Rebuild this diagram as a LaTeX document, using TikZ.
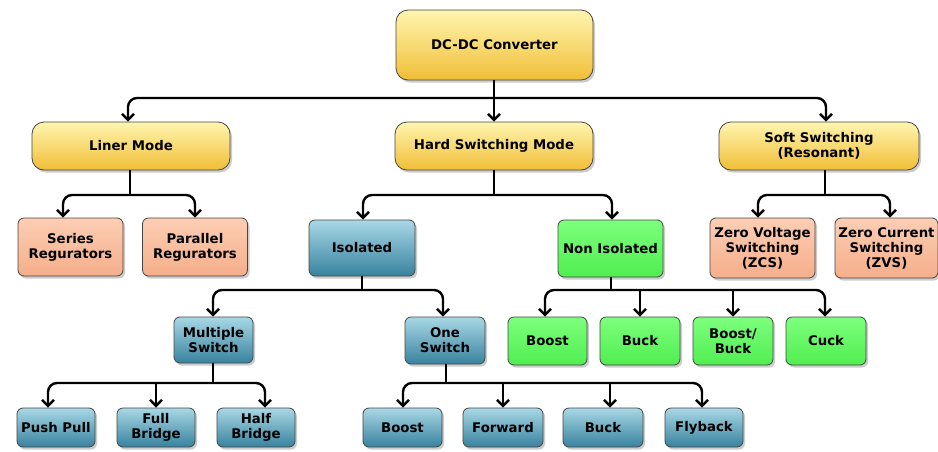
\documentclass[tikz,border=0pt]{standalone}
\usepackage{fontspec}
\setmainfont{DejaVu Sans}
\usetikzlibrary{arrows.meta,shadows,calc}
\definecolor{yelTop}{RGB}{255,245,175}
\definecolor{yelBot}{RGB}{240,190,55}
\definecolor{tealTop}{RGB}{168,216,230}
\definecolor{tealBot}{RGB}{56,130,158}
\definecolor{grnTop}{RGB}{125,255,125}
\definecolor{grnBot}{RGB}{80,238,80}
\definecolor{salTop}{RGB}{252,206,180}
\definecolor{salBot}{RGB}{245,174,138}
\definecolor{boxLine}{RGB}{70,70,70}
\begin{document}
\begin{tikzpicture}[x=1pt,y=-1pt,
  box/.style={draw=boxLine, line width=0.8pt, rounded corners=6pt, align=center, inner sep=0pt,
    font=\bfseries\fontsize{13.3}{15}\selectfont,
    drop shadow={shadow xshift=2pt,shadow yshift=-2.5pt,opacity=0.4}},
  yel/.style={box, rounded corners=12pt, top color=yelTop, bottom color=yelBot},
  teal/.style={box, top color=tealTop, bottom color=tealBot},
  grn/.style={box, top color=grnTop, bottom color=grnBot},
  sal/.style={box, top color=salTop, bottom color=salBot},
  conn/.style={line width=2.4pt, rounded corners=9pt, black},
  tip/.style={-{Straight Barb[length=6pt,width=12pt]}},
  tips/.style={{Straight Barb[length=6pt,width=12pt]}-{Straight Barb[length=6pt,width=12pt]}}
]
\fill[white] (0,0) rectangle (938,451);
\useasboundingbox (0,0) rectangle (938,451);

% level 0
\node[yel, minimum width=197, minimum height=70] (dc) at (494.5,45) {DC-DC Converter};
% level 1
\node[yel, minimum width=198, minimum height=48] (liner) at (131,146) {Liner Mode};
\node[yel, minimum width=198, minimum height=48] (hard) at (494,146) {Hard Switching Mode};
\node[yel, minimum width=200, minimum height=48] (soft) at (819,146) {Soft Switching\\(Resonant)};
% level 2
\node[sal, minimum width=105, minimum height=58] (series) at (70.5,247) {Series\\Regurators};
\node[sal, minimum width=105, minimum height=58] (parallel) at (195,247) {Parallel\\Regurators};
\node[teal, minimum width=106, minimum height=56] (iso) at (362,248) {Isolated};
\node[grn, minimum width=105, minimum height=57] (noniso) at (610.5,248.5) {Non Isolated};
\node[sal, minimum width=105, minimum height=60] (zvs) at (762.5,248) {Zero Voltage\\Switching\\(ZCS)};
\node[sal, minimum width=103, minimum height=60] (zcs) at (886.5,248) {Zero Current\\Switching\\(ZVS)};
% level 3
\node[teal, minimum width=79, minimum height=46] (ms) at (213.5,340) {Multiple\\Switch};
\node[teal, minimum width=80, minimum height=47] (one) at (445,340.5) {One\\Switch};
\node[grn, minimum width=79, minimum height=48] (gboost) at (547.5,341) {Boost};
\node[grn, minimum width=80, minimum height=48] (gbuck) at (640,341) {Buck};
\node[grn, minimum width=80, minimum height=48] (gbb) at (733,341) {Boost/\\Buck};
\node[grn, minimum width=80, minimum height=48] (gcuck) at (826,341) {Cuck};
% level 4
\node[teal, minimum width=78, minimum height=39] (pp) at (56,427.5) {Push Pull};
\node[teal, minimum width=78, minimum height=39] (fb) at (156,427.5) {Full\\Bridge};
\node[teal, minimum width=78, minimum height=39] (hb) at (256,427.5) {Half\\Bridge};
\node[teal, minimum width=79, minimum height=39] (bboost) at (402.5,427.5) {Boost};
\node[teal, minimum width=80, minimum height=39] (fwd) at (503,427.5) {Forward};
\node[teal, minimum width=80, minimum height=39] (bbuck) at (603,427.5) {Buck};
\node[teal, minimum width=78, minimum height=39] (fly) at (704,427.5) {Flyback};

% junction coordinates
\coordinate (j0) at (494,98);
\coordinate (j1) at (130,195);
\coordinate (j2) at (494,195);
\coordinate (j3) at (825,195);
\coordinate (j4) at (362,290);
\coordinate (j5) at (611,290);
\coordinate (j6) at (213,383);
\coordinate (j7) at (446,383);
\coordinate (kbuck) at (610,0);

% DC-DC
\draw[conn] (dc.south -| j0) -- (j0);
\draw[conn,tips] (liner.north -| 128,0) |- (j0) -| (soft.north -| 826,0);
\draw[conn,tip] (j0) -- (hard.north -| j0);
% Liner
\draw[conn] (liner.south -| j1) -- (j1);
\draw[conn,tips] (series.north -| 63,0) |- (j1) -| (parallel.north -| 195,0);
% Hard
\draw[conn] (hard.south -| j2) -- (j2);
\draw[conn,tips] (iso.north -| 363,0) |- (j2) -| (noniso.north -| 612,0);
% Soft
\draw[conn] (soft.south -| j3) -- (j3);
\draw[conn,tips] (zvs.north -| 758,0) |- (j3) -| (zcs.north -| 890,0);
% Isolated
\draw[conn] (iso.south -| j4) -- (j4);
\draw[conn,tips] (ms.north -| 213,0) |- (j4) -| (one.north -| 443,0);
% Non isolated
\draw[conn] (noniso.south -| j5) -- (j5);
\draw[conn,tips] (gboost.north -| 545,0) |- (j5) -| (gcuck.north -| 825,0);
\draw[conn,tip] (gbuck.north |- j5) -- (gbuck.north);
\draw[conn,tip] (gbb.north |- j5) -- (gbb.north);
% Multiple switch
\draw[conn] (ms.south -| j6) -- (j6);
\draw[conn,tips] (pp.north -| 48,0) |- (j6) -| (hb.north -| 265,0);
\draw[conn,tip] (fb.north |- j6) -- (fb.north);
% One switch
\draw[conn] (one.south -| j7) -- (j7);
\draw[conn,tips] (bboost.north -| 403,0) |- (j7) -| (fly.north -| 702,0);
\draw[conn,tip] (fwd.north |- j7) -- (fwd.north);
\draw[conn,tip] (kbuck |- j7) -- (kbuck |- bbuck.north);
\end{tikzpicture}
\end{document}
